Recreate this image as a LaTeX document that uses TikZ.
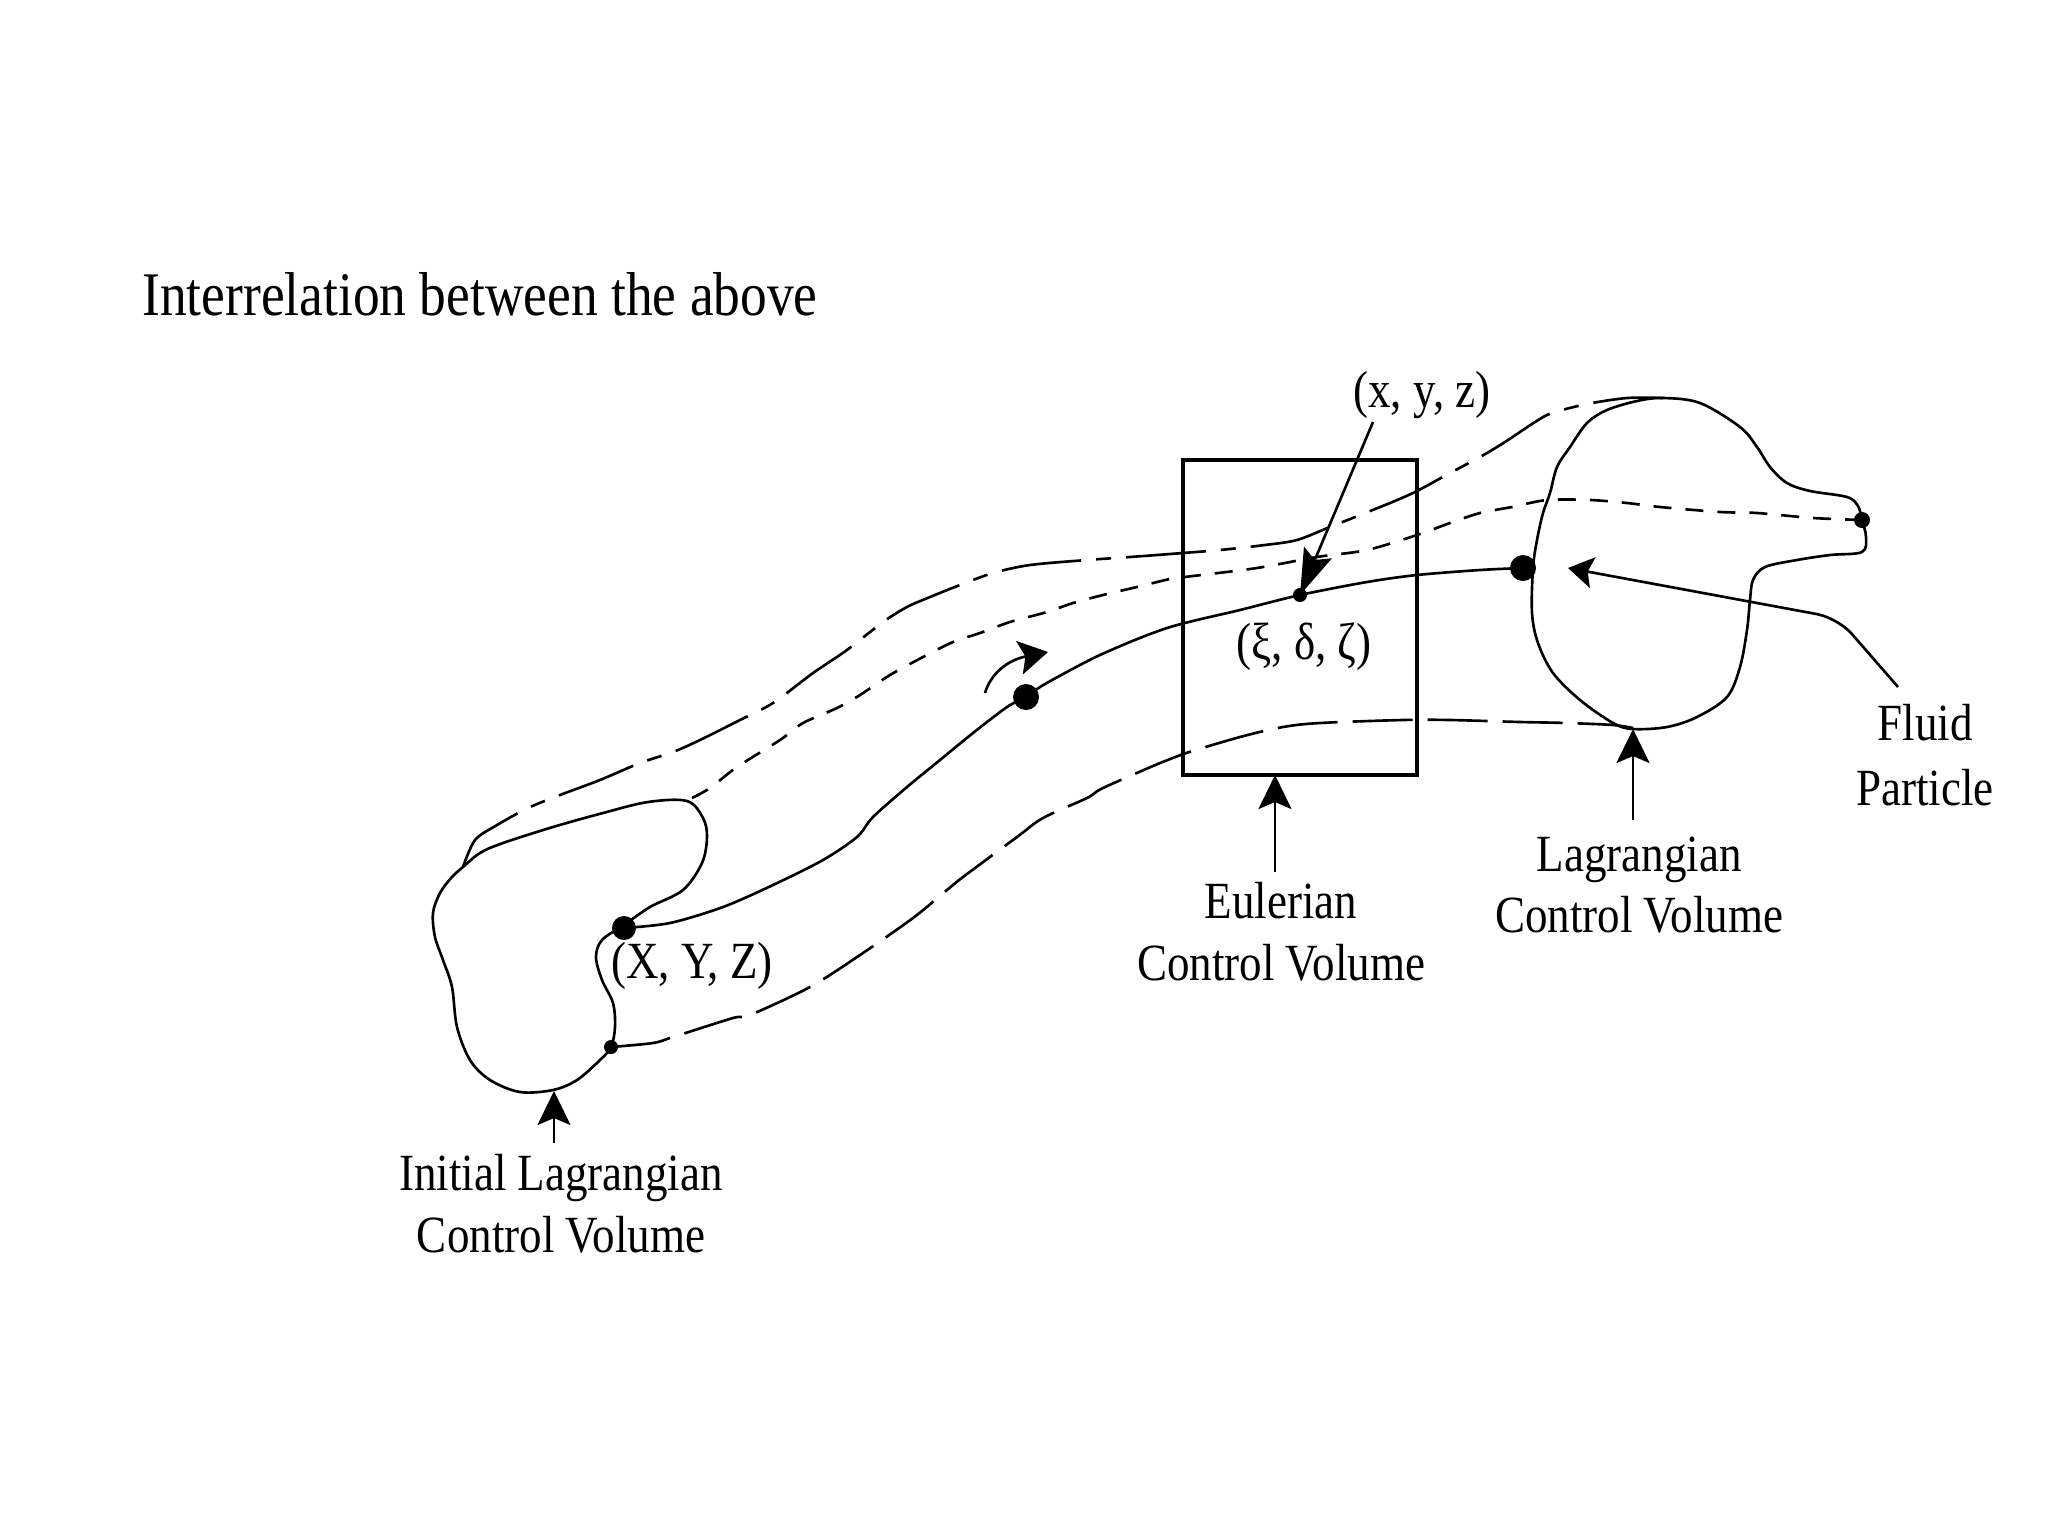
\documentclass[tikz,border=0pt]{standalone}
\usepackage{fontspec}
\usepackage{graphicx}
\setmainfont{Liberation Serif}
\usetikzlibrary{arrows.meta}
\newcommand\vs[1]{\scalebox{1}[1.16]{#1}}
\begin{document}
\begin{tikzpicture}[x=0.01cm,y=0.01cm,line width=0.75pt,
  lab/.style={anchor=base,inner sep=0pt,font=\fontsize{12.8}{15}\selectfont},
  ttl/.style={anchor=base west,inner sep=0pt,font=\fontsize{15.2}{18}\selectfont},
  upperenv/.style={dash pattern=on 8mm off 1.5mm on 1.5mm off 1.5mm},
  midenv/.style={dash pattern=on 1.8mm off 1.4mm},
  lowerenv/.style={dash pattern=on 6mm off 1.5mm},
  bigtip/.style={-{Stealth[length=3.4mm,width=3.3mm,inset=0.7mm]}},
  lineall/.style={line cap=round,line join=round}]
\useasboundingbox (0,-1536) rectangle (2048,0);

% named points
\coordinate (XYZ) at (624,-928);
\coordinate (mid) at (1026,-697);
\coordinate (xi) at (1300,-595);
\coordinate (lag) at (1523,-568);
\coordinate (fp) at (1862,-520);
\coordinate (lowdot) at (611,-1047);

% title
\node[ttl] (title) at (141,-315) {\vs{Interrelation between the above}};

% Eulerian control volume
\draw[line width=0.9pt] (1183,-460) rectangle (1417,-775);
\coordinate (boxbottom) at (1275,-775);

% initial Lagrangian control volume
\draw[lineall] plot[smooth cycle,tension=0.55] coordinates {
(463,-867) (480,-853) (503,-843) (553,-827) (603,-813) (648,-802) (687,-801)
(703,-818) (707,-837) (702,-863) (683,-890) (650,-907) (624,-925) (602,-940)
(596,-957) (602,-980) (613,-1003) (615,-1027) (611,-1047) (600,-1060) (577,-1080)
(553,-1090) (520,-1092) (490,-1080) (470,-1060) (457,-1027) (452,-987) (443,-960)
(435,-937) (433,-913) (440,-893) (452,-877)};

% Lagrangian control volume
\draw[lineall] plot[smooth cycle,tension=0.55] coordinates {
(1663,-398) (1700,-403) (1740,-427) (1757,-447) (1770,-467) (1787,-483) (1810,-491)
(1847,-497) (1858,-506) (1862,-520) (1866,-537) (1862,-552) (1830,-555) (1797,-560)
(1765,-567) (1753,-580) (1750,-600) (1747,-630) (1740,-667) (1727,-697) (1697,-717)
(1667,-727) (1633,-729) (1613,-723) (1580,-700) (1553,-673) (1538,-643) (1532,-613)
(1533,-568) (1537,-540) (1543,-513) (1550,-493) (1557,-467) (1570,-447) (1587,-423)
(1607,-410) (1637,-401)};

% upper envelope
\draw[upperenv] plot[smooth,tension=0.5] coordinates {
(463,-867) (475,-840) (497,-825) (528,-808) (560,-795) (600,-780) (640,-763)
(673,-752) (700,-740) (740,-720) (773,-703) (813,-673) (847,-650) (883,-622)
(907,-607) (930,-597) (960,-585) (993,-573) (1030,-565) (1087,-560) (1130,-557)
(1183,-553) (1220,-550) (1265,-545) (1297,-540) (1330,-527) (1390,-503) (1417,-491)
(1450,-473) (1480,-457) (1505,-442) (1535,-422) (1552,-413) (1587,-404) (1627,-398)
(1663,-398)};

% middle dashed line to the fluid particle
\draw[midenv] plot[smooth,tension=0.5] coordinates {
(692,-798) (710,-788) (737,-767) (780,-740) (803,-723) (837,-708) (860,-695)
(890,-675) (923,-657) (953,-642) (980,-633) (1010,-622) (1047,-612) (1073,-603)
(1103,-595) (1137,-587) (1170,-579) (1193,-576) (1257,-568) (1317,-557) (1367,-550)
(1417,-535) (1450,-523) (1480,-513) (1512,-507) (1547,-500) (1590,-500) (1627,-503)
(1660,-507) (1720,-512) (1757,-513) (1813,-518) (fp)};

% lower envelope
\draw[lowerenv] plot[smooth,tension=0.5] coordinates {
(lowdot) (653,-1043) (673,-1037) (733,-1018) (750,-1015) (810,-987) (860,-955)
(913,-918) (947,-890) (963,-877) (1017,-837) (1043,-818) (1087,-798) (1103,-788)
(1160,-763) (1183,-754) (1240,-737) (1283,-727) (1320,-723) (1403,-720) (1450,-720)
(1520,-722) (1567,-723) (1613,-725) (1633,-728)};

% particle path
\draw[lineall] plot[smooth,tension=0.5] coordinates {
(XYZ) (670,-923) (723,-907) (773,-885) (823,-860) (857,-837) (873,-817) (907,-787)
(940,-760) (973,-733) (1007,-707) (mid) (1045,-684) (1100,-655) (1167,-628)
(1240,-610) (xi) (1367,-582) (1417,-575) (1480,-570) (lag)};

% dots
\fill (XYZ) circle[radius=12];
\fill (mid) circle[radius=13];
\fill (lag) circle[radius=13];
\fill (xi) circle[radius=7];
\fill (fp) circle[radius=8];
\fill (lowdot) circle[radius=7];

% small direction arrow
\coordinate (sa0) at (985,-693);
\coordinate (sa1) at (1048,-652);
\draw[-{Stealth[length=2.9mm,width=3.4mm,inset=0.6mm]}] (sa0) .. controls (991,-673) and (1008,-660) .. (sa1);

% labels
\node[lab] (lxyz) at (1422,-407) {\vs{(x, y, z)}};
\coordinate (lxyzfoot) at (1373,-422);
\draw[-{Stealth[length=4.6mm,width=3.0mm,inset=0.8mm]}] (lxyzfoot) -- (xi);

\node[lab] (lxi) at (1304,-659) {\vs{(ξ, δ, ζ)}};
\node[lab] (lXYZ) at (692,-978) {\vs{(X, Y, Z)}};

\node[lab] (init1) at (561,-1190) {\vs{Initial Lagrangian}};
\node[lab] (init2) at (561,-1252) {\vs{Control Volume}};
\coordinate (inittail) at (554,-1143);
\coordinate (inittip) at (554,-1091);
\draw[bigtip] (inittail) -- (inittip);

\node[lab] (eul1) at (1281,-918) {\vs{Eulerian}};
\node[lab] (eul2) at (1281,-980) {\vs{Control Volume}};
\coordinate (eultail) at (1275,-872);
\draw[bigtip] (eultail) -- (boxbottom);

\node[lab] (lag1) at (1639,-871) {\vs{Lagrangian}};
\node[lab] (lag2) at (1639,-932) {\vs{Control Volume}};
\coordinate (lagtail) at (1633,-820);
\coordinate (lagtip) at (1633,-729);
\draw[bigtip] (lagtail) -- (lagtip);

\node[lab] (fl1) at (1925,-740) {\vs{Fluid}};
\node[lab] (fl2) at (1925,-805) {\vs{Particle}};
\coordinate (fptail) at (1898,-687);
\coordinate (fpbend) at (1838,-618);
\coordinate (fptip) at (1568,-568);
\draw[-{Stealth[length=2.5mm,width=3.1mm,inset=0.5mm]},rounded corners=6] (fptail) -- (fpbend) -- (fptip);
\end{tikzpicture}
\end{document}
